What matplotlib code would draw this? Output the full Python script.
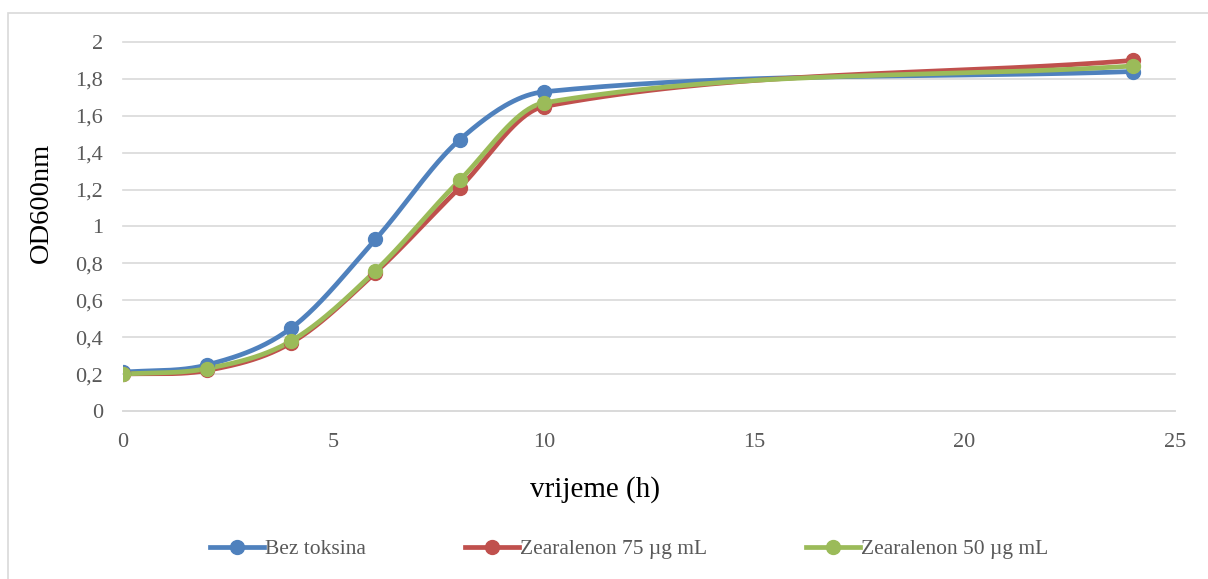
import numpy as np
import matplotlib
matplotlib.use("Agg")
import matplotlib.pyplot as plt
from matplotlib.ticker import FuncFormatter, MultipleLocator
from matplotlib.patches import Rectangle

plt.rcParams['font.family'] = ['Liberation Serif', 'DejaVu Serif']

# podaci
vrijeme = [0, 2, 4, 6, 8, 10, 24]
bez_toksina = [0.21, 0.25, 0.45, 0.93, 1.47, 1.73, 1.84]
zea_75 = [0.20, 0.22, 0.37, 0.75, 1.21, 1.65, 1.90]
zea_50 = [0.20, 0.23, 0.38, 0.76, 1.25, 1.67, 1.87]
nazivi = ["Bez toksina", "Zearalenon 75 µg mL", "Zearalenon 50 µg mL"]
boje = ["#4F81BD", "#C0504D", "#9BBB59"]


def smooth(x, y, n=40):
    """glatka krivulja (kubni bezier, tangente iz susjednih tocaka)"""
    x = np.asarray(x, float)
    y = np.asarray(y, float)
    m = np.zeros_like(y)
    m[0] = (y[1] - y[0]) / (x[1] - x[0])
    m[-1] = (y[-1] - y[-2]) / (x[-1] - x[-2])
    m[1:-1] = (y[2:] - y[:-2]) / (x[2:] - x[:-2])
    t = np.linspace(0, 1, n)
    xs, ys = [], []
    for i in range(len(x) - 1):
        h = x[i + 1] - x[i]
        p0 = np.array([x[i], y[i]])
        p3 = np.array([x[i + 1], y[i + 1]])
        c1 = np.array([x[i] + h / 3, y[i] + m[i] * h / 3])
        c2 = np.array([x[i + 1] - h / 3, y[i + 1] - m[i + 1] * h / 3])
        b = ((1 - t) ** 3)[:, None] * p0 + (3 * (1 - t) ** 2 * t)[:, None] * c1 \
            + (3 * (1 - t) * t ** 2)[:, None] * c2 + (t ** 3)[:, None] * p3
        xs.extend(b[:, 0])
        ys.extend(b[:, 1])
    return xs, ys


fig = plt.figure(figsize=(12.08, 5.79), dpi=100)
ax = fig.add_axes([123 / 1208, 1 - 411 / 579, (1175 - 123) / 1208, (411 - 42) / 579])

for serija, ime, boja in zip([bez_toksina, zea_75, zea_50], nazivi, boje):
    sx, sy = smooth(vrijeme, serija)
    ax.plot(sx, sy, color=boja, lw=3.4, solid_capstyle='round', zorder=3)
    ax.plot(vrijeme, serija, 'o', color=boja, ms=10, zorder=4)
    ax.plot([], [], color=boja, lw=3.4, marker='o', ms=10, label=ime)

ax.set_xlim(0, 25)
ax.set_ylim(0, 2)
ax.xaxis.set_major_locator(MultipleLocator(5))
ax.yaxis.set_major_locator(MultipleLocator(0.2))
fmt = FuncFormatter(lambda v, p: ('%g' % round(v, 1)).replace('.', ','))
ax.xaxis.set_major_formatter(fmt)
ax.yaxis.set_major_formatter(fmt)
ax.grid(axis='y', color='#D9D9D9', lw=1.2, clip_on=False)
ax.set_axisbelow(True)
for s in ['top', 'right', 'left']:
    ax.spines[s].set_visible(False)
ax.spines['bottom'].set_color('#D9D9D9')
ax.spines['bottom'].set_linewidth(1.2)
ax.tick_params(length=0, labelsize=16, labelcolor='#595959')
ax.tick_params(axis='x', pad=16)
ax.tick_params(axis='y', pad=14.5)

ax.set_xlabel("vrijeme (h)", fontsize=21)
ax.xaxis.set_label_coords((595 - 123) / 1052, (411 - 476) / 369)
ax.set_ylabel("OD600nm", fontsize=20.5)
ax.yaxis.set_label_coords((54 - 123) / 1052, (411 - 203) / 369)

fig.legend(loc='center', bbox_to_anchor=(629 / 1208, 1 - 549 / 579), ncol=3,
           frameon=False, fontsize=15.5, labelcolor='#595959', handlelength=2.5,
           handletextpad=0.05, columnspacing=4.6)

fig.patches.append(Rectangle((8 / 1208, -0.01), 1.0, 1 - 13 / 579 + 0.01,
                             transform=fig.transFigure, fill=False,
                             edgecolor='#D9D9D9', lw=1.2))

fig.savefig("out.png", dpi=100)
